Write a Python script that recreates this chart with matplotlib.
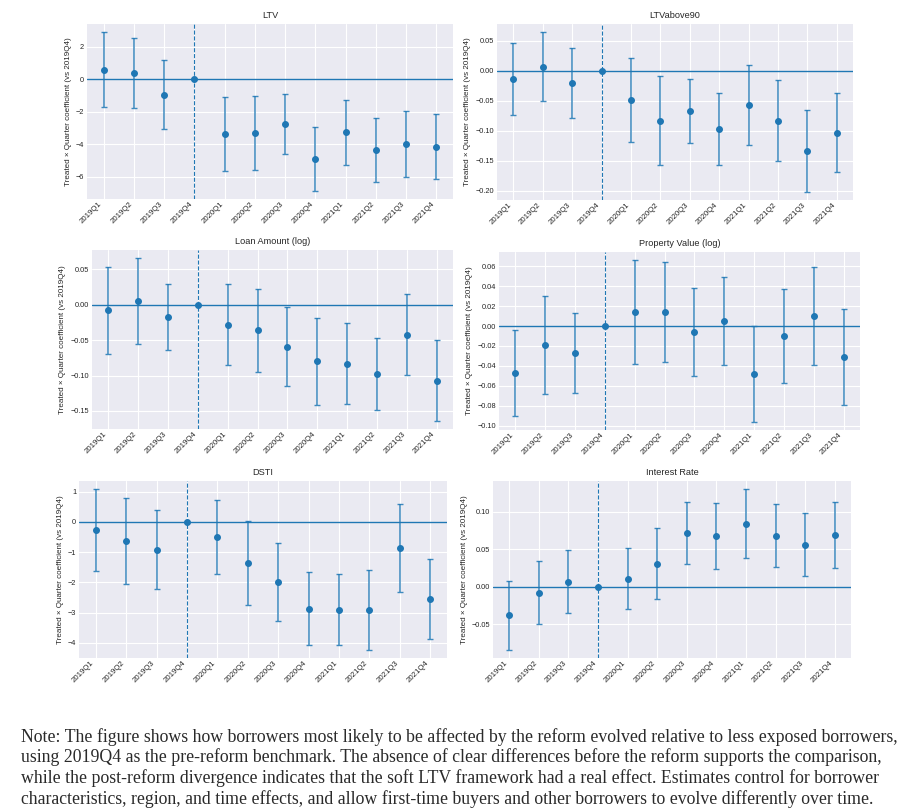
import matplotlib
matplotlib.use("Agg")
import matplotlib.pyplot as plt
from matplotlib.ticker import MultipleLocator

plt.style.use("seaborn-v0_8-darkgrid")
plt.rcParams["font.family"] = ["Liberation Sans", "DejaVu Sans"]

# quarters (2019Q4 is the reference period)
quarters = ["2019Q1", "2019Q2", "2019Q3", "2019Q4",
            "2020Q1", "2020Q2", "2020Q3", "2020Q4",
            "2021Q1", "2021Q2", "2021Q3", "2021Q4"]
ref_idx = 3

# point estimates and 95% CI half-widths
ltv_coef = [0.60, 0.39, -0.95, 0, -3.37, -3.33, -2.73, -4.91, -3.27, -4.36, -3.97, -4.15]
ltv_err = [2.31, 2.15, 2.14, 0, 2.30, 2.27, 1.84, 1.97, 2.01, 1.97, 2.04, 2.00]

ltv90_coef = [-0.013, 0.007, -0.020, 0, -0.048, -0.083, -0.067, -0.097, -0.057, -0.083, -0.134, -0.103]
ltv90_err = [0.060, 0.058, 0.059, 0, 0.070, 0.074, 0.053, 0.060, 0.067, 0.067, 0.068, 0.066]

loan_coef = [-0.008, 0.005, -0.017, 0, -0.028, -0.036, -0.059, -0.080, -0.083, -0.098, -0.042, -0.107]
loan_err = [0.062, 0.061, 0.047, 0, 0.057, 0.059, 0.056, 0.062, 0.057, 0.051, 0.057, 0.057]

prop_coef = [-0.047, -0.019, -0.027, 0, 0.014, 0.014, -0.006, 0.005, -0.048, -0.010, 0.010, -0.031]
prop_err = [0.043, 0.049, 0.040, 0, 0.052, 0.050, 0.044, 0.044, 0.048, 0.047, 0.049, 0.048]

dsti_coef = [-0.27, -0.62, -0.92, 0, -0.49, -1.36, -1.98, -2.87, -2.90, -2.92, -0.87, -2.54]
dsti_err = [1.36, 1.43, 1.31, 0, 1.22, 1.38, 1.30, 1.20, 1.18, 1.32, 1.46, 1.33]

rate_coef = [-0.038, -0.008, 0.007, 0, 0.011, 0.031, 0.072, 0.068, 0.084, 0.068, 0.056, 0.069]
rate_err = [0.046, 0.042, 0.042, 0, 0.041, 0.047, 0.041, 0.044, 0.046, 0.042, 0.042, 0.044]

titles = ["LTV", "LTVabove90", "Loan Amount (log)", "Property Value (log)", "DSTI", "Interest Rate"]
coefs = [ltv_coef, ltv90_coef, loan_coef, prop_coef, dsti_coef, rate_coef]
errs = [ltv_err, ltv90_err, loan_err, prop_err, dsti_err, rate_err]
tick_steps = [2, 0.05, 0.05, 0.02, 1, 0.05]

note_lines = [
    "Note: The figure shows how borrowers most likely to be affected by the reform evolved relative to less exposed borrowers,",
    "using 2019Q4 as the pre-reform benchmark. The absence of clear differences before the reform supports the comparison,",
    "while the post-reform divergence indicates that the soft LTV framework had a real effect. Estimates control for borrower",
    "characteristics, region, and time effects, and allow first-time buyers and other borrowers to evolve differently over time.",
]

# panel positions (the original is a stitched composite, so they differ a bit)
positions = [
    [0.0953, 0.754, 0.401, 0.2163],
    [0.5444, 0.7528, 0.390, 0.2176],
    [0.1008, 0.4697, 0.3954, 0.2213],
    [0.5466, 0.4685, 0.3954, 0.2200],
    [0.0865, 0.1866, 0.4031, 0.2188],
    [0.5400, 0.1866, 0.3921, 0.2188],
]

fig = plt.figure(figsize=(9.13, 8.09), dpi=100)
fig.patch.set_facecolor("white")

x = list(range(len(quarters)))
for pos, title, c, e, step in zip(positions, titles, coefs, errs, tick_steps):
    ax = fig.add_axes(pos)
    ax.errorbar(x, c, yerr=e, fmt="o", color="C0", markersize=4,
                elinewidth=1.1, capsize=2, capthick=1.0, ecolor=(0.12, 0.47, 0.71, 0.85))
    ax.axhline(0, color="C0", lw=1.0)
    ax.axvline(ref_idx, color="C0", lw=0.8, ls="--")
    ax.set_xticks(x)
    ax.set_xticklabels(quarters, rotation=45, ha="right", fontsize=5.6)
    ax.yaxis.set_major_locator(MultipleLocator(step))
    ax.tick_params(axis="y", labelsize=5.3, pad=2)
    ax.tick_params(axis="x", pad=1)
    ax.set_title(title, fontsize=6.6, pad=4)
    ax.set_ylabel("Treated × Quarter coefficient (vs 2019Q4)", fontsize=5.8, labelpad=3)

for i, line in enumerate(note_lines):
    fig.text(0.023, 1 - (741.7 + 20.6 * i) / 809, line, fontsize=12.76,
             family=["Liberation Serif", "DejaVu Serif"], va="baseline", ha="left", color="#2a2a2a")

fig.savefig("out.png", dpi=100, facecolor="white")
